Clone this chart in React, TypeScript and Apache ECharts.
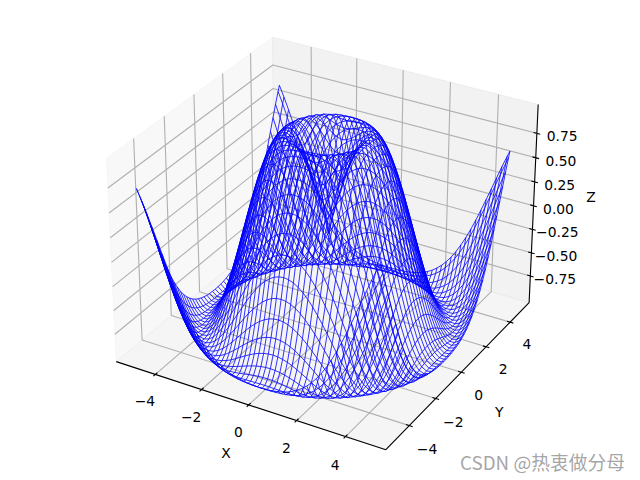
import React, { useEffect, useRef } from "react";
import * as echarts from "echarts";

const gridValues = [-5,-4.8,-4.6,-4.4,-4.2,-4,-3.8,-3.6,-3.4,-3.2,-3,-2.8,-2.6,-2.4,-2.2,-2,-1.8,-1.6,-1.4,-1.2,-1,-0.8,-0.6,-0.4,-0.2,0,0.2,0.4,0.6,0.8,1,1.2,1.4,1.6,1.8,2,2.2,2.4,2.6,2.8,3,3.2,3.4,3.6,3.8,4,4.2,4.4,4.6,4.8,4.9];
// Surface heights, read for one symmetric octant: zRows[a][b] is the height at
// |x| and |y| = 0.2a and 0.2b, with a >= b.
const zRows = [
[0],
[.199,.279],
[.389,.432,.536],
[.565,.591,.66,.75],
[.717,.734,.78,.841,.905],
[.841,.852,.881,.919,.958,.988],
[.932,.938,.953,.974,.992,1,.992],
[.985,.988,.993,.999,.999,.989,.963,.918],
[1,.999,.997,.991,.976,.951,.909,.85,.77],
[.974,.971,.963,.947,.922,.883,.829,.759,.669,.561],
[.909,.905,.892,.869,.835,.787,.724,.644,.548,.436,.308],
[.808,.803,.787,.759,.718,.663,.594,.509,.409,.295,.167,.03],
[.675,.669,.651,.619,.574,.516,.442,.355,.254,.141,.017,-.114,-.25],
[.516,.509,.489,.456,.409,.348,.274,.188,.089,-.021,-.139,-.261,-.386,-.51],
[.335,.329,.308,.274,.228,.167,.095,.011,-.083,-.186,-.295,-.407,-.519,-.628,-.73],
[.141,.135,.115,.082,.037,-.021,-.089,-.168,-.256,-.349,-.448,-.547,-.645,-.737,-.82,-.892],
[-.058,-.065,-.083,-.114,-.156,-.209,-.272,-.344,-.422,-.505,-.591,-.675,-.757,-.831,-.896,-.948,-.982],
[-.256,-.261,-.278,-.306,-.344,-.392,-.448,-.51,-.578,-.649,-.72,-.788,-.852,-.908,-.953,-.985,-.999,-.995],
[-.443,-.448,-.462,-.487,-.519,-.56,-.607,-.66,-.716,-.773,-.829,-.881,-.927,-.963,-.989,-1,-.995,-.971,-.929],
[-.612,-.616,-.628,-.649,-.675,-.709,-.746,-.788,-.831,-.875,-.914,-.95,-.976,-.994,-1,-.992,-.967,-.926,-.867,-.789],
[-.757,-.76,-.77,-.785,-.806,-.831,-.859,-.889,-.919,-.948,-.971,-.989,-.999,-.998,-.986,-.959,-.917,-.859,-.784,-.693,-.586],
[-.872,-.875,-.881,-.892,-.906,-.923,-.941,-.959,-.976,-.99,-.998,-1,-.992,-.975,-.944,-.901,-.843,-.77,-.683,-.58,-.465,-.337],
[-.952,-.953,-.957,-.963,-.971,-.98,-.989,-.996,-1,-.999,-.993,-.979,-.955,-.922,-.876,-.818,-.746,-.661,-.563,-.452,-.33,-.199,-.061],
[-.994,-.994,-.996,-.997,-.999,-1,-.999,-.995,-.988,-.975,-.954,-.926,-.889,-.841,-.782,-.711,-.628,-.534,-.428,-.311,-.186,-.054,.082,.22],
[-.996,-.996,-.995,-.992,-.988,-.982,-.972,-.959,-.941,-.915,-.883,-.843,-.793,-.734,-.664,-.583,-.492,-.39,-.279,-.16,-.035,.095,.226,.357,.484],
[-.959,-.957,-.954,-.948,-.939,-.926,-.909,-.887,-.859,-.824,-.782,-.732,-.672,-.603,-.525,-.437,-.34,-.234,-.122,-.003,.12,.245,.368,.489,.603,.709],
];
// Heights along the last wire, at x or y = 4.9, against |other| = 0.2b; then the (4.9, 4.9) corner.
const zEdgeRow = [-.982,-.982,-.979,-.975,-.968,-.958,-.945,-.927,-.904,-.874,-.836,-.791,-.736,-.673,-.597,-.512,-.418,-.314,-.202,-.082,.042,.169,.297,.424,.545,.657];
const zEdgeCorner = .602;
const xTicks = [-4, -2, 0, 2, 4];
const yTicks = [-4, -2, 0, 2, 4];
const zTicks = [-0.75, -0.5, -0.25, 0, 0.25, 0.5, 0.75];
const zTickLabels = ["\u22120.75", "\u22120.50", "\u22120.25", "0.00", "0.25", "0.50", "0.75"];
const xLim = [-5.495, 5.395];
const yLim = [-5.495, 5.395];
const zLim = [-1, 1];
const watermark = "CSDN @\u70ed\u8877\u505a\u5206\u6bcd";

type V3 = [number, number, number];
const heightAt = (x: number, y: number) => {
  if (x === 4.9 && y === 4.9) return zEdgeCorner;
  if (x === 4.9) return zEdgeRow[Math.round(Math.abs(y) * 5)];
  if (y === 4.9) return zEdgeRow[Math.round(Math.abs(x) * 5)];
  const i = Math.round(Math.abs(x) * 5);
  const j = Math.round(Math.abs(y) * 5);
  return zRows[Math.max(i, j)][Math.min(i, j)];
};

// matplotlib's mplot3d camera: elev 30, azim -60, dist 10, box 4:4:3
const boxScale = 1.8294640721620434 / Math.sqrt(41);
const box: V3 = [4 * boxScale, 4 * boxScale, 3 * boxScale];
const dist = 10;
const elev = (30 * Math.PI) / 180;
const azim = (-60 * Math.PI) / 180;
const R: V3 = [box[0] / 2, box[1] / 2, box[2] / 2];
const E: V3 = [
  R[0] + dist * Math.cos(elev) * Math.cos(azim),
  R[1] + dist * Math.cos(elev) * Math.sin(azim),
  R[2] + dist * Math.sin(elev),
];
const cross = (a: V3, b: V3): V3 => [a[1] * b[2] - a[2] * b[1], a[2] * b[0] - a[0] * b[2], a[0] * b[1] - a[1] * b[0]];
const dot = (a: V3, b: V3) => a[0] * b[0] + a[1] * b[1] + a[2] * b[2];
const unit = (a: V3): V3 => { const n = Math.sqrt(dot(a, a)); return [a[0] / n, a[1] / n, a[2] / n]; };
const w = unit([E[0] - R[0], E[1] - R[1], E[2] - R[2]]);
const u = unit(cross([0, 0, 1], w));
const v = cross(w, u);
const axSize = 480, axLeft = 80, axTop = 0;
const project = (x: number, y: number, z: number): [number, number] => {
  const d: V3 = [
    ((x - xLim[0]) / (xLim[1] - xLim[0])) * box[0] - E[0],
    ((y - yLim[0]) / (yLim[1] - yLim[0])) * box[1] - E[1],
    ((z - zLim[0]) / (zLim[1] - zLim[0])) * box[2] - E[2],
  ];
  const zv = -dot(w, d);
  const px = dot(u, d) / zv, py = dot(v, d) / zv;
  return [axLeft + ((px + 0.095) / 0.185) * axSize, axTop + ((0.09 - py) / 0.185) * axSize];
};

const dx = (xLim[1] - xLim[0]) / 12, dy = (yLim[1] - yLim[0]) / 12, dz = (zLim[1] - zLim[0]) / 12;
const x0 = xLim[0] - dx / 4, x1 = xLim[1] + dx / 4;
const y0 = yLim[0] - dy / 4, y1 = yLim[1] + dy / 4;
const z0 = zLim[0] - dz / 4, z1 = zLim[1] + dz / 4;

const BREAK: any = ["-", "-"];
const polyline = (pts: V3[]) => [...pts.map((p) => project(p[0], p[1], p[2])), BREAK];

const wireData: any[] = [];
gridValues.forEach((y) => wireData.push(...polyline(gridValues.map((x) => [x, y, heightAt(x, y)] as V3))));
gridValues.forEach((x) => wireData.push(...polyline(gridValues.map((y) => [x, y, heightAt(x, y)] as V3))));

const gridData: any[] = [];
xTicks.forEach((t) => gridData.push(...polyline([[t, y0, z0], [t, y1, z0], [t, y1, z1]])));
yTicks.forEach((t) => gridData.push(...polyline([[x1, t, z0], [x0, t, z0], [x0, t, z1]])));
zTicks.forEach((t) => gridData.push(...polyline([[x0, y0, t], [x0, y1, t], [x1, y1, t]])));

const axisData: any[] = [
  ...polyline([[x0, y0, z0], [x1, y0, z0]]),
  ...polyline([[x1, y0, z0], [x1, y1, z0]]),
  ...polyline([[x1, y1, z0], [x1, y1, z1]]),
];
const tickOut = 0.15;
xTicks.forEach((t) => axisData.push(...polyline([[t, y0 - tickOut * dy, z0], [t, y0 + tickOut * dy, z0]])));
yTicks.forEach((t) => axisData.push(...polyline([[x1 - tickOut * dx, t, z0], [x1 + tickOut * dx, t, z0]])));
zTicks.forEach((t) => axisData.push(...polyline([[x1 - tickOut * dx, y1, t], [x1 + tickOut * dx, y1, t]])));

const panes = [
  { pts: [[x0, y0, z0], [x0, y1, z0], [x0, y1, z1], [x0, y0, z1]] as V3[], color: "rgba(242,242,242,0.5)" },
  { pts: [[x0, y1, z0], [x1, y1, z0], [x1, y1, z1], [x0, y1, z1]] as V3[], color: "rgba(230,230,230,0.5)" },
  { pts: [[x0, y0, z0], [x1, y0, z0], [x1, y1, z0], [x0, y1, z0]] as V3[], color: "rgba(236,236,236,0.5)" },
];

const tickK = 0.8, labelK = 1.65, textShift = 5;
const FONT = '13.89px "DejaVu Sans"';
const nudge = (p: [number, number], ox: number, oy: number): [number, number] => [p[0] + ox, p[1] + oy];
const texts: { text: string; at: [number, number] }[] = [
  ...xTicks.map((t) => ({ text: t < 0 ? "\u2212" + -t : String(t), at: project(t, y0 - tickK * dy, z0 - tickK * dz) })),
  ...yTicks.map((t) => ({ text: t < 0 ? "\u2212" + -t : String(t), at: project(x1 + tickK * dx, t, z0 - tickK * dz) })),
  ...zTicks.map((t, i) => ({ text: zTickLabels[i], at: nudge(project(x1 + tickK * dx, y1 + tickK * dy, t), -1, 1.5) })),
  { text: "X", at: nudge(project((x0 + x1) / 2, y0 - labelK * dy, z0 - labelK * dz), 0, -3) },
  { text: "Y", at: nudge(project(x1 + labelK * dx, (y0 + y1) / 2, z0 - labelK * dz), 3, -3) },
  { text: "Z", at: nudge(project(x1 + labelK * dx, y1 + labelK * dy, (z0 + z1) / 2), 4, -7) },
];

export default function App() {
  const ref = useRef<HTMLDivElement>(null);
  useEffect(() => {
    document.body.style.margin = "0";
    const chart = echarts.init(ref.current!, undefined, { renderer: "svg" });
    const lineBase = { type: "line", showSymbol: false, symbol: "none", silent: true, clip: false, connectNulls: false, animation: false };
    chart.setOption({
      animation: false,
      backgroundColor: "#ffffff",
      grid: { left: 0, right: 0, top: 0, bottom: 0 },
      xAxis: { type: "value", min: 0, max: 640, show: false },
      yAxis: { type: "value", min: 0, max: 480, inverse: true, show: false },
      series: [
        {
          type: "custom", silent: true, z: 1, clip: false,
          data: panes.map((_, i) => [i]),
          renderItem: (p: any, api: any) => {
            const pane = panes[p.dataIndex];
            return {
              type: "polygon",
              shape: { points: pane.pts.map((q) => api.coord(project(q[0], q[1], q[2]))) },
              style: { fill: pane.color, stroke: pane.color, lineWidth: 1 },
            };
          },
        },
        { ...lineBase, z: 2, data: gridData, lineStyle: { color: "#b0b0b0", width: 1.11 } },
        { ...lineBase, z: 3, data: axisData, lineStyle: { color: "#000000", width: 1.11 } },
        { ...lineBase, z: 4, data: wireData, lineStyle: { color: "#0000ff", width: 0.8 } },
        {
          type: "custom", silent: true, z: 5, clip: false,
          data: texts.map((_, i) => [i]),
          renderItem: (p: any, api: any) => {
            const t = texts[p.dataIndex];
            const c = api.coord(t.at);
            return {
              type: "text", x: c[0], y: c[1] + textShift,
              style: { text: t.text, fill: "#000000", font: FONT, textAlign: "center", textVerticalAlign: "middle", verticalAlign: "middle" },
            };
          },
        },
      ],
      graphic: [{
        type: "text", x: 460, y: 461, z: 10,
        style: { text: watermark, fill: "rgba(130,130,130,0.72)", font: '18.8px "Noto Sans CJK SC"', textAlign: "left", textVerticalAlign: "middle", verticalAlign: "middle" },
      }],
    });
    return () => chart.dispose();
  }, []);
  return <div ref={ref} style={{ width: 640, height: 480 }} />;
}
